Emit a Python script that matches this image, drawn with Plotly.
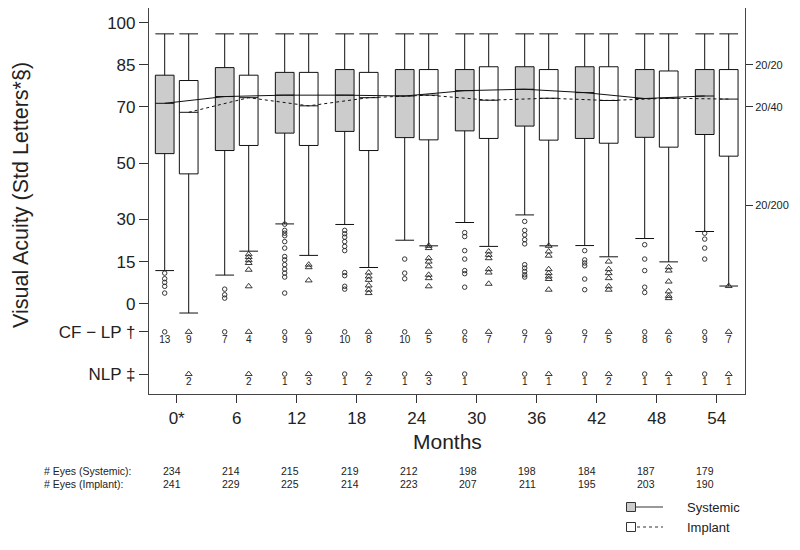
import plotly.graph_objects as go

months = [0, 6, 12, 18, 24, 30, 36, 42, 48, 54]
month_labels = ["0*", "6", "12", "18", "24", "30", "36", "42", "48", "54"]

sys_q1 = [53.4, 54.5, 60.7, 61.3, 59.1, 61.5, 63.2, 58.8, 59.2, 60.2]
sys_med = [71.3, 73.7, 74.2, 74.2, 73.9, 75.8, 76.3, 75.1, 73.0, 73.9]
sys_q3 = [81.3, 84.0, 82.3, 83.3, 83.3, 83.3, 84.3, 84.3, 83.3, 83.3]
sys_lo = [11.8, 10.2, 28.4, 28.2, 22.6, 28.9, 31.6, 20.7, 23.2, 25.7]
sys_hi = [96, 96, 96, 96, 96, 96, 96, 96, 96, 96]

imp_q1 = [46.2, 56.3, 56.3, 54.5, 58.3, 58.8, 58.2, 57.1, 55.7, 52.5]
imp_med = [68.1, 73.3, 70.4, 73.3, 74.2, 72.4, 73.1, 72.3, 73.1, 72.8]
imp_q3 = [79.4, 81.3, 82.3, 82.3, 83.3, 84.3, 83.3, 84.3, 82.8, 83.3]
imp_lo = [-3.3, 18.7, 17.2, 12.9, 20.6, 20.4, 20.6, 16.7, 14.9, 6.3]
imp_hi = [96, 96, 96, 96, 96, 96, 96, 96, 96, 96]

sys_out = [
    [10.9, 8.9, 7.6, 6.2, 3.8],
    [5.2, 3.2, 2.0],
    [28.3, 26.1, 25.1, 24.2, 22.1, 19.8, 16.8, 15.6, 13.9, 12.3, 10.9, 9.5, 3.8],
    [26.1, 24.9, 23.7, 22.1, 20.4, 18.9, 11.1, 10.0, 6.2, 5.2],
    [15.9, 10.9, 8.9],
    [25.3, 23.9, 18.9, 15.9, 11.8, 10.7, 5.9],
    [29.3, 26.1, 24.5, 22.8, 21.3, 13.9, 12.7, 11.5, 10.3, 9.5],
    [18.9, 15.6, 14.5, 13.5, 8.8, 5.0],
    [21.0, 15.9, 11.8, 5.9, 4.0],
    [25.1, 23.0, 19.8, 15.9],
]
imp_out = [
    [],
    [17.6, 16.6, 15.5, 14.5, 12.1, 6.2],
    [13.9, 13.0, 8.3],
    [11.1, 9.7, 8.5, 6.5, 5.0, 3.8],
    [20.6, 19.8, 16.2, 15.0, 13.3, 10.3, 9.1, 6.2],
    [18.6, 17.4, 16.2, 12.3, 11.1, 7.1],
    [20.6, 18.6, 17.1, 12.3, 10.9, 9.7, 8.8, 5.0],
    [15.0, 12.3, 10.9, 9.1, 6.2, 5.0],
    [13.0, 11.8, 7.9, 4.4, 2.8, 2.0],
    [6.3],
]

sys_cflp = [13, 7, 9, 10, 10, 6, 7, 7, 8, 9]
imp_cflp = [9, 4, 9, 8, 5, 7, 9, 5, 6, 7]
sys_nlp = [0, 0, 1, 1, 1, 1, 1, 1, 1, 1]
imp_nlp = [2, 2, 3, 2, 3, 0, 1, 2, 1, 1]

sys_n = [234, 214, 215, 219, 212, 198, 198, 184, 187, 179]
imp_n = [241, 229, 225, 214, 223, 207, 211, 195, 203, 190]

y_tickvals = [100, 85, 70, 50, 30, 15, 0, -10, -25]
y_ticktext = ["100", "85", "70", "50", "30", "15", "0", "CF \u2212 LP \u2020", "NLP \u2021"]
snellen_vals = [85, 70, 35]
snellen_text = ["20/20", "20/40", "20/200"]

CFLP_Y = -10
NLP_Y = -25
OFF = 1.2
BW = 1.87
FONT = "Arial, Liberation Sans, sans-serif"
INK = "#222222"

sys_x = [m - OFF for m in months]
imp_x = [m + OFF for m in months]

# the page body has an 8px margin: size the figure so it fits the 800x550 view
SHIFT = 8
W, H = 800 - SHIFT, 550 - SHIFT


def px(xr):
    return (xr - SHIFT) / W


def py(yr):
    return 1 - (yr - SHIFT) / H


fig = go.Figure()

fig.add_trace(go.Box(
    x=sys_x, q1=sys_q1, median=sys_med, q3=sys_q3, lowerfence=sys_lo, upperfence=sys_hi,
    width=BW, whiskerwidth=1, fillcolor="#cccccc", line=dict(color="#111111", width=1),
    boxpoints=False, hoverinfo="skip", showlegend=False))
fig.add_trace(go.Box(
    x=imp_x, q1=imp_q1, median=imp_med, q3=imp_q3, lowerfence=imp_lo, upperfence=imp_hi,
    width=BW, whiskerwidth=1, fillcolor="#ffffff", line=dict(color="#111111", width=1),
    boxpoints=False, hoverinfo="skip", showlegend=False))

ox, oy = [], []
for x, vals in zip(sys_x, sys_out):
    ox += [x] * len(vals)
    oy += vals
fig.add_trace(go.Scatter(x=ox, y=oy, mode="markers", showlegend=False, hoverinfo="skip",
                         marker=dict(symbol="circle-open", size=4.5, color="#222", line=dict(width=0.9))))
tx, ty = [], []
for x, vals in zip(imp_x, imp_out):
    tx += [x] * len(vals)
    ty += vals
fig.add_trace(go.Scatter(x=tx, y=ty, mode="markers", showlegend=False, hoverinfo="skip",
                         marker=dict(symbol="triangle-up-open", size=6, color="#222", line=dict(width=0.9))))

fig.add_trace(go.Scatter(x=sys_x, y=sys_med, mode="lines", showlegend=False, hoverinfo="skip",
                         line=dict(color="#111", width=1)))
fig.add_trace(go.Scatter(x=imp_x, y=imp_med, mode="lines", showlegend=False, hoverinfo="skip",
                         line=dict(color="#111", width=1, dash="3px,3px")))


def count_row(xs, counts, yv, symbol, size):
    pxs = [x for x, c in zip(xs, counts) if c > 0]
    pc = [str(c) for c in counts if c > 0]
    fig.add_trace(go.Scatter(x=pxs, y=[yv] * len(pxs), mode="markers", showlegend=False, hoverinfo="skip",
                             marker=dict(symbol=symbol, size=size, color="#222", line=dict(width=0.9))))
    fig.add_trace(go.Scatter(x=pxs, y=[yv - 2.9] * len(pxs), mode="text", text=pc, showlegend=False,
                             hoverinfo="skip", textfont=dict(family=FONT, size=10, color="#222222")))


count_row(sys_x, sys_cflp, CFLP_Y, "circle-open", 4.5)
count_row(imp_x, imp_cflp, CFLP_Y, "triangle-up-open", 6)
count_row(sys_x, sys_nlp, NLP_Y, "circle-open", 4.5)
count_row(imp_x, imp_nlp, NLP_Y, "triangle-up-open", 6)

fig.add_trace(go.Scatter(x=[months[0]], y=[snellen_vals[0]], yaxis="y2", mode="markers",
                         marker=dict(opacity=0), showlegend=False, hoverinfo="skip"))

# legend icons
fig.add_trace(go.Scatter(x=[0, 1], y=[1, 1], xaxis="x3", yaxis="y3", mode="lines",
                         line=dict(color="#333", width=1), showlegend=False, hoverinfo="skip"))
fig.add_trace(go.Scatter(x=[0, 1], y=[0, 0], xaxis="x3", yaxis="y3", mode="lines",
                         line=dict(color="#333", width=1, dash="3px,3px"), showlegend=False, hoverinfo="skip"))
fig.add_trace(go.Scatter(x=[0, 0], y=[1, 0], xaxis="x3", yaxis="y3", mode="markers", cliponaxis=False,
                         marker=dict(symbol="square", size=9, color=["#cccccc", "#ffffff"],
                                     line=dict(color="#333", width=1)),
                         showlegend=False, hoverinfo="skip"))

fig.update_layout(
    width=W, height=H, template="none",
    margin=dict(l=0, r=0, t=0, b=0, pad=0),
    paper_bgcolor="white", plot_bgcolor="white",
    boxmode="overlay",
    font=dict(family=FONT, color=INK),
    xaxis=dict(domain=[px(149), px(745)], range=[-2.77, 56.83], tickvals=months, ticktext=month_labels,
               ticks="outside", ticklen=8, tickcolor="#333", tickfont=dict(size=17, color=INK),
               showgrid=False, zeroline=False, showline=True, mirror=True, linecolor="#444",
               linewidth=1.2, automargin=False),
    yaxis=dict(domain=[py(394), py(8)], range=[-32.1, 105.2], tickvals=y_tickvals, ticktext=y_ticktext,
               ticks="outside", ticklen=9, tickcolor="#333", tickfont=dict(size=17, color=INK),
               showgrid=False, zeroline=False, showline=True, mirror=True, linecolor="#444",
               linewidth=1.2, automargin=False),
    yaxis2=dict(overlaying="y", side="right", range=[-32.1, 105.2], tickvals=snellen_vals,
                ticktext=snellen_text, ticks="outside", ticklen=7, tickcolor="#333",
                tickfont=dict(size=11, color=INK), showgrid=False, zeroline=False, showline=False,
                automargin=False),
    xaxis3=dict(domain=[px(631), px(663)], range=[0, 1], visible=False, anchor="y3"),
    yaxis3=dict(domain=[py(532), py(502)], range=[-0.25, 1.25], visible=False, anchor="x3"),
)

ann = []
ann.append(dict(text="Visual Acuity (Std Letters*\u00a7)", textangle=-90, x=px(21), y=py(195),
                xref="paper", yref="paper", xanchor="center", yanchor="middle", showarrow=False,
                font=dict(size=21.5, color=INK, family=FONT)))
ann.append(dict(text="Months", x=px(447), y=py(441), xref="paper", yref="paper",
                xanchor="center", yanchor="middle", showarrow=False, font=dict(size=21, color=INK, family=FONT)))
ROW1, ROW2 = 471, 484
ann.append(dict(text="# Eyes (Systemic):", x=px(42), y=py(ROW1), xref="paper", yref="paper",
                xanchor="left", yanchor="middle", showarrow=False, font=dict(size=10.5, color=INK, family=FONT)))
ann.append(dict(text="# Eyes (Implant):", x=px(42), y=py(ROW2), xref="paper", yref="paper",
                xanchor="left", yanchor="middle", showarrow=False, font=dict(size=10.5, color=INK, family=FONT)))
for i, m in enumerate(months):
    xm = m * 0.987 - 0.47
    ann.append(dict(text=str(sys_n[i]), x=xm, y=py(ROW1), xref="x", yref="paper",
                    xanchor="center", yanchor="middle", showarrow=False, font=dict(size=10.5, color=INK, family=FONT)))
    ann.append(dict(text=str(imp_n[i]), x=xm, y=py(ROW2), xref="x", yref="paper",
                    xanchor="center", yanchor="middle", showarrow=False, font=dict(size=10.5, color=INK, family=FONT)))
ann.append(dict(text="Systemic", x=px(685), y=py(507), xref="paper", yref="paper",
                xanchor="left", yanchor="middle", showarrow=False, font=dict(size=13, color=INK, family=FONT)))
ann.append(dict(text="Implant", x=px(685), y=py(527), xref="paper", yref="paper",
                xanchor="left", yanchor="middle", showarrow=False, font=dict(size=13, color=INK, family=FONT)))
fig.update_layout(annotations=ann)

fig.write_html("out.html")
